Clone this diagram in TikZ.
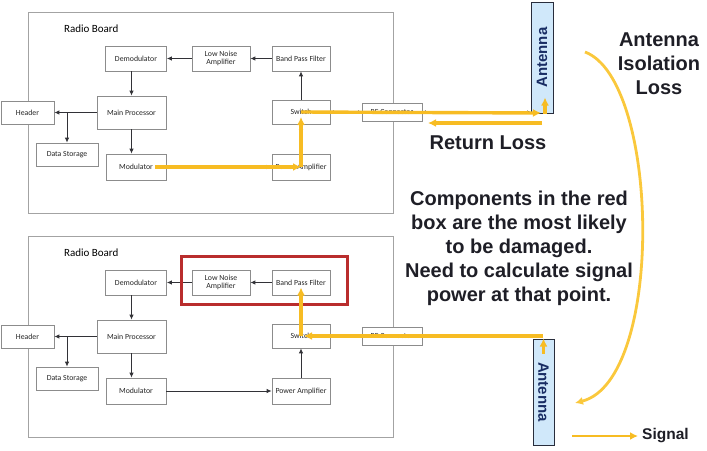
\documentclass[tikz,border=0pt]{standalone}
\usepackage{fontspec}
\setmainfont{Carlito}
\newfontfamily\headfont{Liberation Sans}
\usepackage{xcolor}
\usepackage{tikz}
\usetikzlibrary{arrows.meta, positioning}

\definecolor{boxgray}{RGB}{140,140,140}
\definecolor{linkgray}{RGB}{50,50,55}
\definecolor{sigyellow}{RGB}{247,188,35}
\definecolor{arcyellow}{RGB}{250,200,60}
\definecolor{hotred}{RGB}{185,45,45}
\definecolor{antfill}{RGB}{208,232,250}
\definecolor{antdraw}{RGB}{40,45,60}
\definecolor{antink}{RGB}{25,45,100}
\definecolor{bigink}{RGB}{30,30,38}

\begin{document}
\begin{tikzpicture}[
  x=1pt, y=-1pt,
  board/.style={draw=boxgray!80, line width=0.8pt, minimum width=365pt, minimum height=201pt},
  blk/.style={draw=boxgray, fill=white, line width=0.7pt, minimum width=58pt, minimum height=25pt,
    inner sep=1pt, align=center, text=black!85, font=\fontsize{7.8}{8.4}\selectfont},
  link/.style={-{Latex[length=5pt,width=4.5pt]}, linkgray, line width=0.9pt},
  dlink/.style={{Latex[length=3.5pt,width=3.5pt]}-{Latex[length=3.5pt,width=3.5pt]}, linkgray, line width=0.7pt},
  sig/.style={-{Latex[length=8pt,width=8pt]}, sigyellow, line width=3.4pt},
  ant/.style={draw=antdraw, line width=1pt, fill=antfill, minimum width=22pt, minimum height=111pt},
  anttext/.style={text=antink, font=\headfont\bfseries\fontsize{15}{15}\selectfont},
  bigtext/.style={text=bigink, align=center, font=\headfont\bfseries\fontsize{20}{24}\selectfont}
]
\useasboundingbox (0,0) rectangle (707,450);

% upper board
\node[board] (board-t) at (210.5,112.5) {};
\node[anchor=west, font=\fontsize{11}{11}\selectfont] (title-t) at (60.5,29) {Radio Board};
\node[blk, minimum width=61pt] (demod-t) at (136,58.5) {Demodulator};
\node[blk] (lna-t) at (221,58.5) {Low Noise\\Amplifier};
\node[blk] (bpf-t) at (301,58.5) {Band Pass Filter};
\node[blk, minimum width=53pt, minimum height=23pt] (head-t) at (27.5,112.5) {Header};
\node[blk, minimum width=69pt, minimum height=33pt] (mp-t) at (131.5,112.5) {Main Processor};
\node[blk, minimum height=24pt] (sw-t) at (301,112) {Switch};
\node[blk, minimum width=62pt, minimum height=23pt] (ds-t) at (67,154.5) {Data Storage};
\node[blk, minimum width=60pt, minimum height=26pt] (mod-t) at (136,167) {Modulator};
\node[blk, minimum height=26pt] (pa-t) at (301,167) {Power Amplifier};
\node[blk, minimum width=60pt, minimum height=18pt] (rf-t) at (392,112) {RF Connector};
\node[ant] (ant-t) at (542,57.5) {};
\node[anttext, rotate=90] (antlab-t) at (ant-t.center) {Antenna};

\draw[link] (bpf-t) -- (lna-t);
\draw[link] (lna-t) -- (demod-t);
\draw[link] (mp-t.north |- demod-t.south) -- (mp-t.north);
\draw[link] (mp-t) -- (head-t);
\draw[link] (ds-t.north |- mp-t.west) -- (ds-t.north);
\draw[link] (mp-t.south) -- (mp-t.south |- mod-t.north);
\draw[link] (mod-t) -- (pa-t);
\draw[link] (pa-t) -- (sw-t);
\draw[link] (sw-t) -- (bpf-t);
\draw[dlink] (sw-t) -- (rf-t);
\draw[dlink] (rf-t) -- (ant-t.west |- rf-t);

% transmit path and return loss
\coordinate (feed-t) at (541,113);
\coordinate (rl-a) at (542,123);
\coordinate (rl-b) at (428,123);
\draw[sig] ([xshift=19pt]mod-t.center) -- (pa-t.center);
\draw[sig] (pa-t.center) -- ([yshift=-5pt]sw-t.center);
\draw[sig] (sw-t.center) -- (feed-t);
\draw[sig] ([xshift=3pt]ant-t.south) -- ([xshift=3pt,yshift=16pt]ant-t.south);
\draw[sig] (rl-a) -- (rl-b);
\node[bigtext] (rl) at (488,143) {Return Loss};

% lower board
\node[board] (board-b) at (210.5,336.5) {};
\node[anchor=west, font=\fontsize{11}{11}\selectfont] (title-b) at (60.5,253) {Radio Board};
\node[blk, minimum width=61pt] (demod-b) at (136,282.5) {Demodulator};
\node[blk] (lna-b) at (221,282.5) {Low Noise\\Amplifier};
\node[blk] (bpf-b) at (301,282.5) {Band Pass Filter};
\node[blk, minimum width=53pt, minimum height=23pt] (head-b) at (27.5,336.5) {Header};
\node[blk, minimum width=69pt, minimum height=33pt] (mp-b) at (131.5,336.5) {Main Processor};
\node[blk, minimum height=24pt] (sw-b) at (301,336) {Switch};
\node[blk, minimum width=62pt, minimum height=23pt] (ds-b) at (67,378.5) {Data Storage};
\node[blk, minimum width=60pt, minimum height=26pt] (mod-b) at (136,391) {Modulator};
\node[blk, minimum height=26pt] (pa-b) at (301,391) {Power Amplifier};
\node[blk, minimum width=60pt, minimum height=18pt] (rf-b) at (392,336) {RF Connector};
\node[ant, minimum width=21pt, minimum height=106pt] (ant-b) at (543.5,392) {};
\node[anttext, rotate=-90] (antlab-b) at (ant-b.center) {Antenna};

\draw[link] (bpf-b) -- (lna-b);
\draw[link] (lna-b) -- (demod-b);
\draw[link] (mp-b.north |- demod-b.south) -- (mp-b.north);
\draw[link] (mp-b) -- (head-b);
\draw[link] (ds-b.north |- mp-b.west) -- (ds-b.north);
\draw[link] (mp-b.south) -- (mp-b.south |- mod-b.north);
\draw[link] (mod-b) -- (pa-b);
\draw[link] (pa-b) -- (sw-b);
\draw[dlink] (sw-b) -- (rf-b);
\draw[dlink] (rf-b) -- (ant-b.north west |- rf-b);

% parts at risk
\draw[hotred, line width=2.6pt] ([shift={(-10pt,13pt)}]lna-b.north west) rectangle ([shift={(17pt,-9pt)}]bpf-b.south east);

% receive path
\coordinate (feed-b) at (543,336);
\draw[sig] ([yshift=-15pt]ant-b.north) -- (ant-b.north);
\draw[sig] (feed-b) -- ([xshift=3pt]sw-b.center);
\draw[sig] (sw-b.center) -- ([yshift=-5pt]bpf-b.center);

% isolation loss between antennas
\coordinate (iso-a) at (585,52);
\coordinate (iso-b) at (575,403);
\draw[-{Latex[length=8pt,width=8pt]}, arcyellow, line width=2.8pt] (iso-a) .. controls (660,80) and (665,380) .. (iso-b);
\node[bigtext] (iso) at (659,64) {Antenna\\Isolation\\Loss};

\node[bigtext] (note) at (519,248) {Components in the red\\box are the most likely\\to be damaged.\\Need to calculate signal\\power at that point.};

% key
\coordinate (key-a) at (572,436);
\node[anchor=west, text=bigink, inner sep=4pt, font=\headfont\bfseries\fontsize{15.5}{16}\selectfont] (key) at (638,436) {Signal};
\draw[sig, line width=2.6pt] (key-a) -- (key.west);
\end{tikzpicture}
\end{document}
